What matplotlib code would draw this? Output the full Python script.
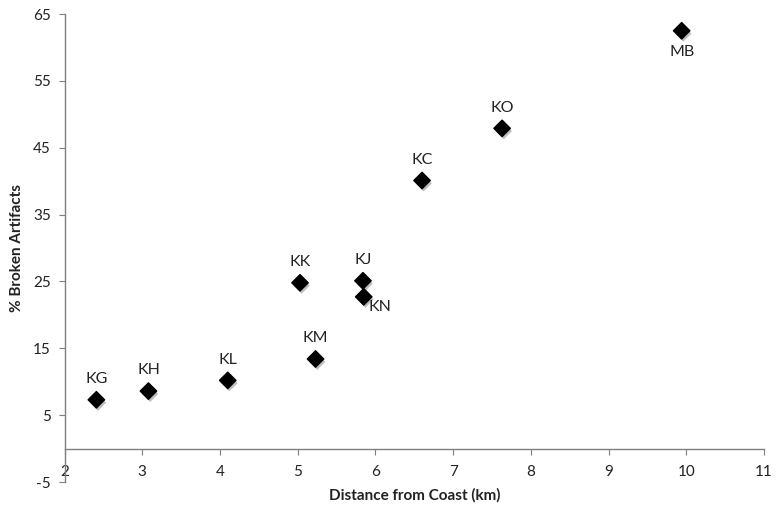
import matplotlib.pyplot as plt
import matplotlib.patheffects as pe

# values
sites = ["KG", "KH", "KL", "KM", "KK", "KJ", "KN", "KC", "KO", "MB"]
distance_km = [2.41, 3.08, 4.10, 5.23, 5.03, 5.84, 5.85, 6.60, 7.63, 9.94]
pct_broken = [7.3, 8.6, 10.2, 13.4, 24.8, 25.1, 22.7, 40.1, 47.9, 62.5]

x_ticks = list(range(2, 12))
y_ticks = list(range(-5, 66, 10))

# label placement relative to each marker, in points
label_offsets = {
    "KN": (12, -7),
    "MB": (0, -15),
}

plt.rcParams["font.family"] = ["Lato", "DejaVu Sans"]
plt.rcParams["axes.unicode_minus"] = False

fig = plt.figure(figsize=(7.79, 5.07), dpi=100)
ax = fig.add_axes([0.0828, 0.0493, 0.898, 0.923])

ax.scatter(
    distance_km, pct_broken, marker="D", s=70, color="black", zorder=3,
    path_effects=[
        pe.SimplePatchShadow(offset=(1.2, -2), shadow_rgbFace="0.45", alpha=0.45),
        pe.Normal(),
    ],
)

for name, x, y in zip(sites, distance_km, pct_broken):
    dx, dy = label_offsets.get(name, (0, 15))
    ax.annotate(name, (x, y), xytext=(dx, dy), textcoords="offset points",
                ha="center", va="center", fontsize=11.5, color="#222222")

ax.set_xlim(2, 11)
ax.set_ylim(-5, 65)
ax.set_xticks(x_ticks)
ax.set_yticks(y_ticks)

ax.spines["top"].set_visible(False)
ax.spines["right"].set_visible(False)
ax.spines["bottom"].set_position(("data", 0))
for side in ["left", "bottom"]:
    ax.spines[side].set_color("#7f7f7f")
    ax.spines[side].set_linewidth(1.0)

ax.tick_params(axis="both", direction="out", color="#7f7f7f", length=4,
               labelsize=11, labelcolor="#222222")
ax.tick_params(axis="x", pad=8)
ax.tick_params(axis="y", pad=6)

ax.set_xlabel("Distance from Coast (km)", fontsize=11, fontweight="bold",
              color="#222222")
ax.xaxis.set_label_coords(0.5, -0.012)
ax.set_ylabel("% Broken Artifacts", fontsize=11, fontweight="bold",
              color="#222222")
ax.yaxis.set_label_coords(-0.058, 0.5)

fig.savefig("out.png", dpi=100)
